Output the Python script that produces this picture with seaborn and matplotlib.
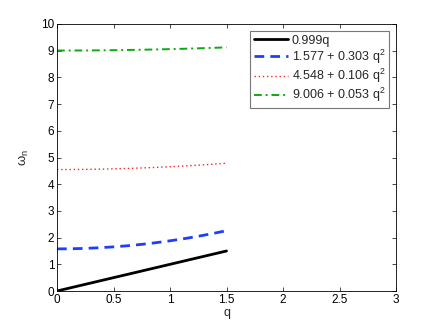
import matplotlib
matplotlib.use("Agg")
import matplotlib.pyplot as plt
import seaborn as sns
import pandas as pd

q = [0.0, 0.125, 0.25, 0.375, 0.5, 0.625, 0.75, 0.875, 1.0, 1.125, 1.25, 1.375, 1.5]
w1 = [0.0, 0.125, 0.25, 0.375, 0.5, 0.624, 0.749, 0.874, 0.999, 1.124, 1.249, 1.374, 1.4985]
w2 = [1.577, 1.582, 1.596, 1.620, 1.653, 1.695, 1.747, 1.809, 1.880, 1.960, 2.050, 2.150, 2.259]
w3 = [4.548, 4.550, 4.555, 4.563, 4.575, 4.589, 4.608, 4.629, 4.654, 4.682, 4.714, 4.748, 4.787]
w4 = [9.006, 9.007, 9.009, 9.013, 9.019, 9.027, 9.036, 9.047, 9.059, 9.073, 9.089, 9.106, 9.125]
labels = ["0.999q", "1.577 + 0.303 q$^2$", "4.548 + 0.106 q$^2$", "9.006 + 0.053 q$^2$"]
xticks = [0, 0.5, 1, 1.5, 2, 2.5, 3]
yticks = list(range(0, 11))

sns.set_style("white")
plt.rcParams['font.family'] = ['Liberation Sans', 'DejaVu Sans']
plt.rcParams['mathtext.fontset'] = 'custom'
plt.rcParams['mathtext.rm'] = 'Liberation Sans'

fig = plt.figure(figsize=(4.36, 3.28), dpi=100)
ax = fig.add_axes([57/436, 1 - 291/328, (396-57)/436, (291-24)/328])

styles = [
    dict(color="black", linestyle="-", linewidth=2.0),
    dict(color="#1f3dff", linestyle=(0, (3.5, 2.2)), linewidth=2.0),
    dict(color="#ff2020", linestyle=(0, (1, 2)), linewidth=1.0),
    dict(color="#10a810", linestyle=(0, (4, 2, 1, 2)), linewidth=1.4),
]
for ys, lab, st in zip([w1, w2, w3, w4], labels, styles):
    df = pd.DataFrame({"q": q, "w": ys})
    sns.lineplot(data=df, x="q", y="w", ax=ax, label=lab, **st)

ax.set_xlim(0, 3)
ax.set_ylim(0, 10)
ax.set_xticks(xticks)
ax.set_xticklabels([f"{t:g}" for t in xticks])
ax.set_yticks(yticks)
ax.tick_params(direction="in", length=3, width=0.5, labelsize=8.5, top=True, right=True,
               bottom=True, left=True, pad=2, colors="black")
for s in ax.spines.values():
    s.set_color("black")
    s.set_linewidth(0.6)
ax.set_xlabel("q", fontsize=9, labelpad=1)
ax.set_ylabel("ω$_\\mathregular{n}$", fontsize=9.5, labelpad=7)
leg = ax.legend(loc="upper right", fontsize=9, frameon=True, fancybox=False,
                edgecolor="#555555", borderpad=0.3, labelspacing=0.08,
                handlelength=2.7, handletextpad=0.3, borderaxespad=0.55)
leg.get_frame().set_linewidth(0.8)

fig.savefig("out.png", dpi=100)
